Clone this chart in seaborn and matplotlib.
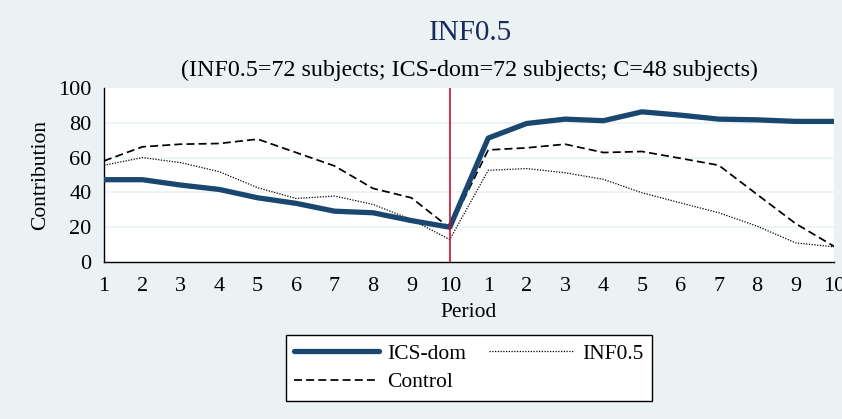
import numpy as np
import pandas as pd
import matplotlib
matplotlib.use("Agg")
import matplotlib.pyplot as plt
import seaborn as sns

# Average contribution per period, two 10-period phases
periods = list(range(1, 21))
period_labels = [str(i) for i in range(1, 11)] * 2
ics_dom = [47.3, 47.3, 44.2, 41.7, 36.9, 33.7, 29.2, 28.3, 23.8, 20.0,
           71.2, 79.6, 82.1, 81.2, 86.3, 84.4, 82.1, 81.7, 80.8, 80.8]
inf05 = [55.6, 60.0, 57.1, 51.9, 42.7, 36.5, 37.9, 33.1, 24.4, 12.9,
         52.7, 53.7, 51.3, 47.5, 39.8, 34.0, 28.3, 20.6, 11.0, 8.7]
control = [58.1, 66.2, 67.7, 68.1, 70.6, 62.9, 55.2, 42.3, 36.9, 19.6,
           64.4, 65.6, 67.7, 62.9, 63.5, 59.6, 55.6, 38.8, 22.1, 9.0]

df = pd.DataFrame({"period": periods, "ICS-dom": ics_dom,
                   "INF0.5": inf05, "Control": control})

sns.set_theme(style="white")
plt.rcParams["font.family"] = ["Liberation Serif", "DejaVu Serif"]

bg = "#eaf2f3"
fig = plt.figure(figsize=(8.42, 4.19), dpi=100, facecolor=bg)
ax = fig.add_axes([0.1235, 0.3747, 0.867, 0.4153])
ax.set_facecolor("white")

for y in (20, 40, 60, 80):
    ax.axhline(y, color=bg, lw=1.2, zorder=0)

sns.lineplot(data=df, x="period", y="ICS-dom", ax=ax, color="#1a476f",
             lw=3.8, label="ICS-dom", zorder=3)
sns.lineplot(data=df, x="period", y="Control", ax=ax, color="black",
             lw=1.25, dashes=(4.6, 2.4), label="Control", zorder=2)
sns.lineplot(data=df, x="period", y="INF0.5", ax=ax, color="black",
             lw=0.9, dashes=(1, 1.2), label="INF0.5", zorder=2)

ax.axvline(10, color="#c8102e", lw=1.2, zorder=4)

ax.set_xlim(1, 20)
ax.set_ylim(0, 100)
ax.set_xticks(periods)
ax.set_xticklabels(period_labels)
ax.set_yticks([0, 20, 40, 60, 80, 100])
ax.set_yticklabels(["0", "20", "40", "60", "80", "100"])
ax.tick_params(axis="both", labelsize=16, length=6, width=1,
               color="black", labelcolor="black", direction="out", pad=3)
ax.tick_params(axis="x", pad=5)
for s in ("top", "right"):
    ax.spines[s].set_visible(False)
for s in ("left", "bottom"):
    ax.spines[s].set_color("black")
    ax.spines[s].set_linewidth(1)

ax.set_xlabel("Period", fontsize=15.5, labelpad=5, color="black")
ax.set_ylabel("Contribution", fontsize=15.5, labelpad=6, color="black")

fig.text(0.559, 0.921, "INF0.5", ha="center", va="center",
         fontsize=21, color="#1a2a5a")
fig.text(0.557, 0.833, "(INF0.5=72 subjects; ICS-dom=72 subjects; C=48 subjects)",
         ha="center", va="center", fontsize=17.3, color="black")

handles, labels = ax.get_legend_handles_labels()
order = [labels.index(n) for n in ("ICS-dom", "Control", "INF0.5")]
ax.legend_.remove()
leg = fig.legend([handles[i] for i in order], [labels[i] for i in order],
                 ncol=2, loc="upper center", bbox_to_anchor=(0.557, 0.2006),
                 bbox_transform=fig.transFigure,
                 fontsize=15.5, frameon=True, fancybox=False, handlelength=3.95,
                 columnspacing=1.07, handletextpad=0.37, labelspacing=0.4,
                 borderpad=0.4, framealpha=1, facecolor="white",
                 borderaxespad=0)
leg.get_frame().set_edgecolor("black")
leg.get_frame().set_linewidth(1)
for t in leg.get_texts():
    t.set_color("black")

fig.savefig("out.png", dpi=100, facecolor=bg)
